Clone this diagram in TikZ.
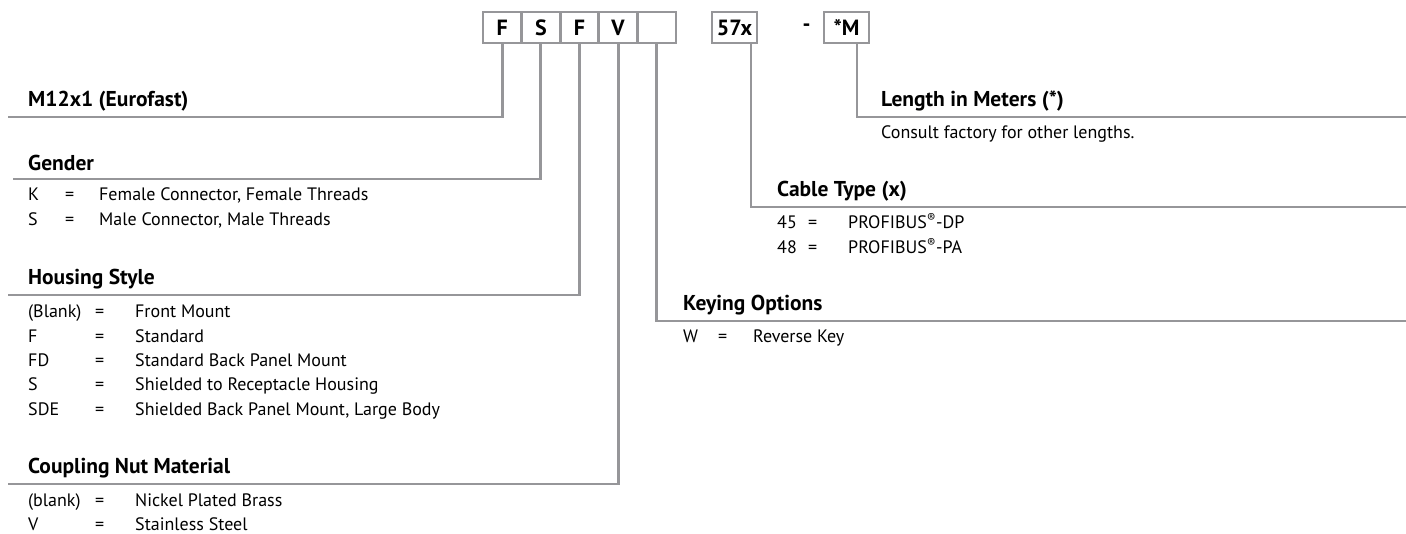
\documentclass[tikz,border=0pt]{standalone}
\usepackage{fontspec}
\setmainfont{PT Sans}
\usetikzlibrary{positioning}
\definecolor{rulegray}{RGB}{150,150,153}
\newcommand{\kv}[4]{\makebox[#1pt][l]{#3}\makebox[#2pt][l]{=}#4}

\begin{document}
\begin{tikzpicture}[x=1pt,y=-1pt,
  rule/.style={draw=rulegray,line width=2.9pt},
  code/.style={rule,minimum width=38.6pt,minimum height=31pt,inner sep=0pt,
    outer sep=0pt,font=\fontsize{22}{26}\selectfont\bfseries},
  head/.style={anchor=base west,inner sep=0pt,font=\fontsize{21.5}{25}\selectfont\bfseries},
  item/.style={anchor=base west,inner sep=0pt,font=\fontsize{18}{22}\selectfont}]
\useasboundingbox (0,0) rectangle (1406,534);

% part number boxes
\node[code] (b1) at (502.3,27.5) {F};
\node[code,right=0pt of b1] (b2) {S};
\node[code,right=0pt of b2] (b3) {F};
\node[code,right=0pt of b3] (b4) {V};
\node[code,right=0pt of b4] (b5) {};
\node[code,minimum width=45pt,right=36pt of b5] (b6) {57x};
\node[code,minimum width=45pt,right=67pt of b6] (b8) {*M};
\node[font=\fontsize{22}{26}\selectfont\bfseries] (b7) at (806.5,27.5) {-};

% ends of the rules
\coordinate (eM) at (8,117);
\coordinate (eG) at (12.7,179);
\coordinate (eH) at (8,295);
\coordinate (eC) at (8,484);
\coordinate (eK) at (1406,321);
\coordinate (eT) at (1406,207);
\coordinate (eL) at (1406,117);

\draw[rule] (b1.south) |- (eM);
\draw[rule] (b2.south) |- (eG);
\draw[rule] (b3.south) |- (eH);
\draw[rule] (b4.south) |- (eC);
\draw[rule] (b5.south) |- (eK);
\draw[rule] ([xshift=16.5pt]b6.south) |- (eT);
\draw[rule] ([xshift=10.5pt]b8.south) |- (eL);

% left column
\node[head] (hM) at (28,107) {M12x1 (Eurofast)};

\node[head] (hG) at (28,171) {Gender};
\node[item] (g1) at (28,201) {\kv{37}{34}{K}{Female Connector, Female Threads}};
\node[item] (g2) at (28,225.5) {\kv{37}{34}{S}{Male Connector, Male Threads}};

\node[head] (hH) at (28,285) {Housing Style};
\node[item] (h1) at (28,318) {\kv{67}{40}{(Blank)}{Front Mount}};
\node[item] (h2) at (28,342.3) {\kv{67}{40}{F}{Standard}};
\node[item] (h3) at (28,366.6) {\kv{67}{40}{FD}{Standard Back Panel Mount}};
\node[item] (h4) at (28,390.9) {\kv{67}{40}{S}{Shielded to Receptacle Housing}};
\node[item] (h5) at (28,415.2) {\kv{67}{40}{SDE}{Shielded Back Panel Mount, Large Body}};

\node[head] (hC) at (28,474) {Coupling Nut Material};
\node[item] (c1) at (28,506) {\kv{67}{40}{(blank)}{Nickel Plated Brass}};
\node[item] (c2) at (28,530) {\kv{67}{40}{V}{Stainless Steel}};

% right column
\node[head] (hL) at (881,107) {Length in Meters (*)};
\node[item] (l1) at (881,139) {Consult factory for other lengths.};

\node[head] (hT) at (777,197) {Cable Type (x)};
\node[item] (t1) at (777,229) {\kv{31}{40}{45}{PROFIBUS\textsuperscript{®}-DP}};
\node[item] (t2) at (777,253.5) {\kv{31}{40}{48}{PROFIBUS\textsuperscript{®}-PA}};

\node[head] (hK) at (683,311) {Keying Options};
\node[item] (k1) at (683,343) {\kv{35}{35}{W}{Reverse Key}};
\end{tikzpicture}
\end{document}
